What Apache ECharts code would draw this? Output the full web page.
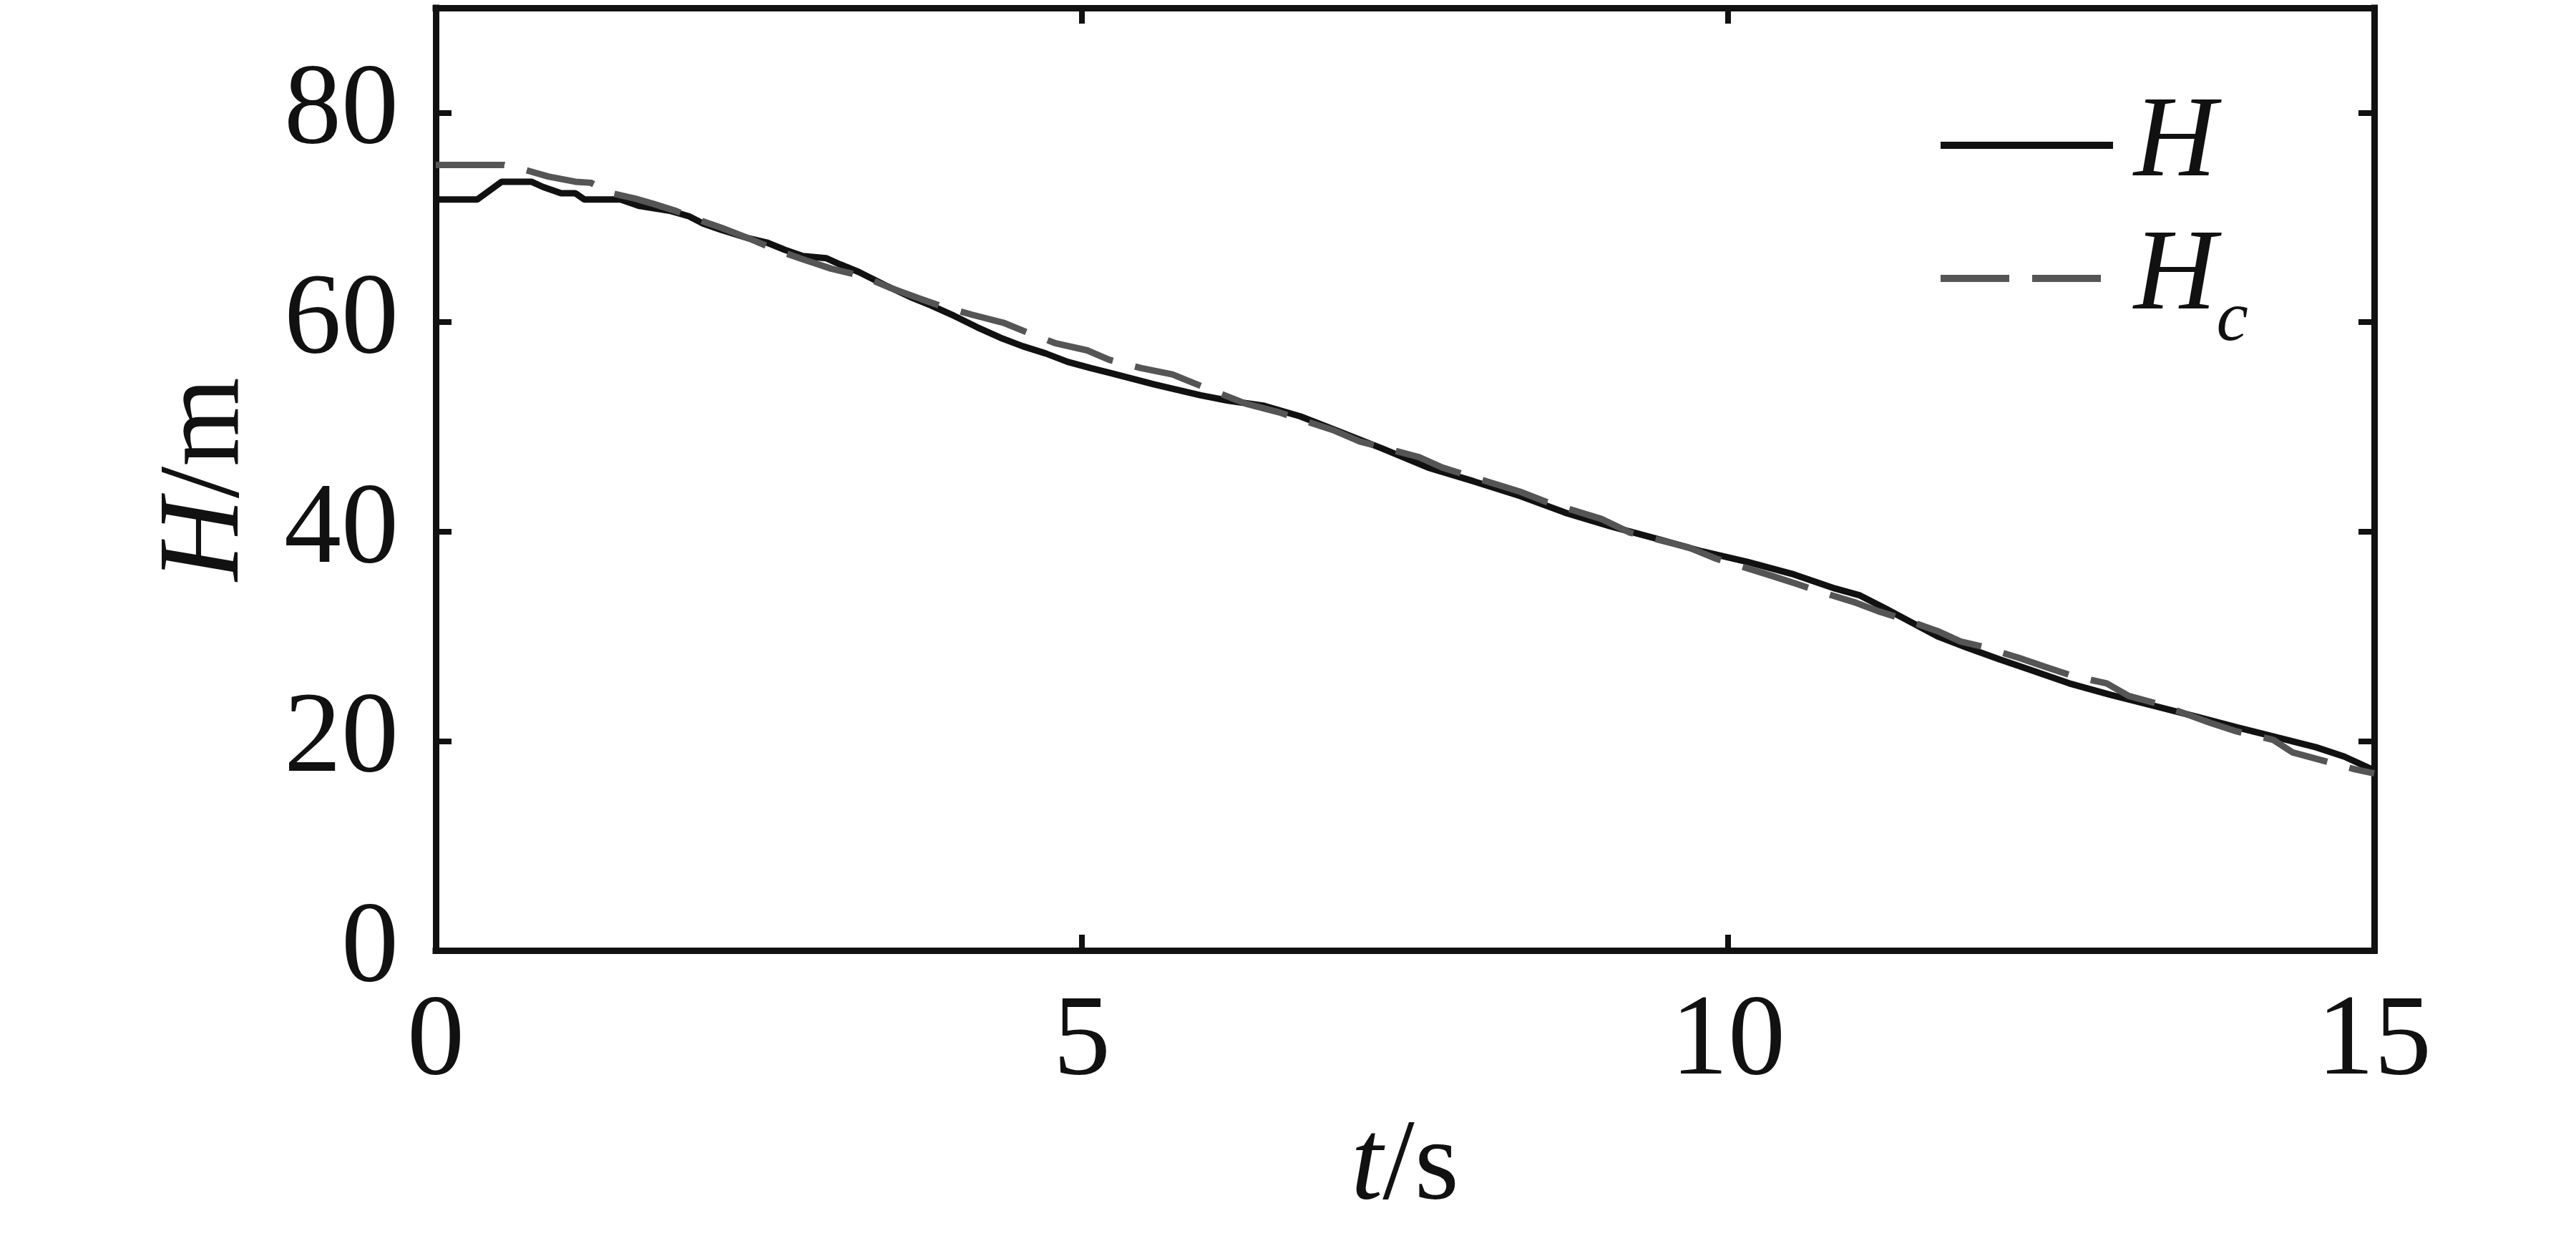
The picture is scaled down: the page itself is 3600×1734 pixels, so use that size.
<!DOCTYPE html>
<html>
<head>
<meta charset="utf-8">
<script src="https://cdn.jsdelivr.net/npm/echarts@6/dist/echarts.min.js"></script>
<style>
  html, body { margin: 0; padding: 0; background: #fff; }
  #chart { width: 3600px; height: 1734px; }
</style>
</head>
<body>
<div id="chart"></div>
<script>
// measured height H (black, solid)
const hTime = [0, 0.32, 0.51, 0.74, 0.83, 0.97, 1.08, 1.15, 1.43, 1.57, 1.82, 1.96, 2.07, 2.21, 2.42, 2.56, 2.7, 2.84, 3.02, 3.13, 3.27, 3.48, 3.69, 3.83, 4.01, 4.19, 4.37, 4.54, 4.72, 4.89, 5.07, 5.23, 5.56, 5.92, 6.13, 6.41, 6.69, 6.98, 7.33, 7.68, 8.03, 8.39, 8.74, 9.09, 9.45, 9.8, 10.15, 10.51, 10.83, 11.02, 11.21, 11.62, 11.85, 12.1, 12.36, 12.64, 12.96, 13.25, 13.63, 13.94, 14.26, 14.55, 14.77, 15];
const hValue = [71.7, 71.7, 73.4, 73.4, 72.9, 72.3, 72.3, 71.7, 71.7, 71.1, 70.6, 70.1, 69.4, 68.8, 68.0, 67.6, 66.9, 66.3, 66.1, 65.5, 64.8, 63.5, 62.3, 61.6, 60.6, 59.5, 58.5, 57.7, 57.0, 56.2, 55.6, 55.1, 54.05, 53.0, 52.5, 52.0, 51.0, 49.6, 47.9, 46.1, 44.8, 43.4, 41.8, 40.5, 39.3, 38.1, 37.1, 35.9, 34.55, 33.9, 32.7, 30.0, 28.9, 27.8, 26.7, 25.5, 24.4, 23.5, 22.3, 21.3, 20.3, 19.4, 18.5, 17.2];

// computed height Hc (grey, dashed)
const hcTime = [0, 0.53, 0.7, 0.87, 1.08, 1.2, 1.36, 1.54, 1.68, 1.86, 2.07, 2.21, 2.42, 2.63, 2.84, 3.06, 3.3, 3.51, 3.73, 3.94, 4.15, 4.4, 4.58, 4.79, 5.04, 5.21, 5.46, 5.7, 5.86, 6.27, 6.52, 6.94, 7.15, 7.61, 7.79, 8.39, 8.6, 9.02, 9.24, 9.69, 9.91, 10.33, 10.53, 10.7, 10.99, 11.16, 11.34, 11.62, 11.8, 11.97, 12.26, 12.45, 12.67, 12.93, 13.1, 13.34, 13.56, 13.74, 13.94, 14.22, 14.37, 14.58, 14.85, 15];
const hcValue = [75.0, 75.0, 74.5, 73.9, 73.4, 73.3, 72.3, 71.8, 71.3, 70.6, 69.6, 69.0, 68.0, 66.9, 66.0, 65.1, 64.4, 63.3, 62.3, 61.4, 60.7, 59.9, 59.0, 58.0, 57.3, 56.4, 55.6, 55.0, 54.2, 52.2, 51.4, 49.7, 48.6, 47.1, 46.1, 43.8, 42.8, 41.2, 39.9, 38.5, 37.4, 35.8, 35.0, 34.3, 33.2, 32.4, 31.7, 30.5, 29.5, 29.0, 27.9, 27.1, 26.2, 25.5, 24.3, 23.5, 22.5, 21.7, 20.9, 20.1, 18.9, 18.2, 17.3, 16.9];

const xTicks = [0, 5, 10, 15];
const yTicks = [0, 20, 40, 60, 80];

const FONT = 'Liberation Serif';
const INK = '#111';

const zip = (xs, ys) => xs.map((x, i) => [x, ys[i]]);

const chart = echarts.init(document.getElementById('chart'), null, { renderer: 'canvas' });

const frameLine = { show: true, onZero: false, lineStyle: { color: INK, width: 9, cap: 'square' } };
const inTick = (vals) => ({ show: true, inside: true, length: 22, customValues: vals, lineStyle: { color: INK, width: 8 } });

const option = {
  animation: false,
  backgroundColor: '#fff',
  grid: { left: 609, right: 282, top: 11, bottom: 406 },
  legend: {
    orient: 'vertical',
    left: 2707,
    top: 123,
    padding: 0,
    itemGap: -4,
    itemWidth: 241,
    itemHeight: 10,
    itemStyle: { opacity: 0 },
    lineStyle: { width: 10 },
    data: ['H', 'Hc'],
    formatter: (name) => name === 'H' ? '{g| }{i|H}' : '{g| }{i|H}{s|c}',
    textStyle: {
      color: INK,
      fontFamily: FONT,
      rich: {
        g: { width: 24, fontSize: 20 },
        i: { fontStyle: 'italic', fontSize: 160, lineHeight: 100, fontFamily: FONT, color: INK },
        s: { fontStyle: 'italic', fontSize: 100, lineHeight: 40, padding: [120, 0, 0, 0], fontFamily: FONT, color: INK }
      }
    }
  },
  xAxis: [{
    type: 'value', min: 0, max: 15, position: 'bottom',
    name: '{i|t}/s', nameLocation: 'middle', nameGap: 224,
    nameTextStyle: { fontFamily: FONT, fontSize: 160, color: INK, rich: { i: { fontStyle: 'italic', fontFamily: FONT, fontSize: 160, color: INK } } },
    axisLine: frameLine,
    axisTick: inTick(xTicks),
    axisLabel: { customValues: xTicks, margin: 50, fontFamily: FONT, fontSize: 160, color: INK },
    splitLine: { show: false }
  }, {
    type: 'value', min: 0, max: 15, position: 'top',
    axisLine: frameLine,
    axisTick: inTick(xTicks),
    axisLabel: { show: false },
    splitLine: { show: false }
  }],
  yAxis: [{
    type: 'value', min: 0, max: 90, position: 'left',
    name: '{i|H}/m', nameLocation: 'middle', nameGap: 239,
    nameTextStyle: { fontFamily: FONT, fontSize: 160, color: INK, rich: { i: { fontStyle: 'italic', fontFamily: FONT, fontSize: 160, color: INK } } },
    axisLine: frameLine,
    axisTick: inTick(yTicks),
    axisLabel: { customValues: yTicks, margin: 52, fontFamily: FONT, fontSize: 160, color: INK },
    splitLine: { show: false }
  }, {
    type: 'value', min: 0, max: 90, position: 'right',
    axisLine: frameLine,
    axisTick: inTick(yTicks),
    axisLabel: { show: false },
    splitLine: { show: false }
  }],
  series: [{
    name: 'H',
    type: 'line',
    data: zip(hTime, hValue),
    showSymbol: false,
    symbol: 'none',
    lineStyle: { color: INK, width: 9 },
    itemStyle: { color: INK }
  }, {
    name: 'Hc',
    type: 'line',
    data: zip(hcTime, hcValue),
    showSymbol: false,
    symbol: 'none',
    lineStyle: { color: '#555', width: 9, type: [96, 32] },
    itemStyle: { color: '#555' }
  }]
};

chart.setOption(option);
</script>
</body>
</html>
